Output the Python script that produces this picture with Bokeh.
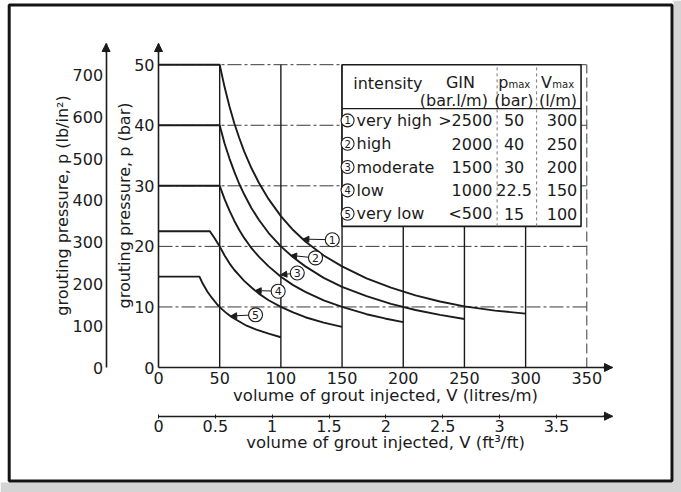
from bokeh.plotting import figure
from bokeh.models import Range1d, LinearAxis, FixedTicker, NumeralTickFormatter, Arrow, NormalHead
from bokeh.core.properties import value
from bokeh.embed import file_html
from bokeh.resources import INLINE

FONT = "DejaVu Sans"
INK = "#1b1b1b"
GRID = "#3a3a3a"

# ---------------- data ----------------
curve_no = ["1", "2", "3", "4", "5"]
intensity = ["very high", "high", "moderate", "low", "very low"]
gin_text = [">2500", "2000", "1500", "1000", "<500"]
pmax_text = ["50", "40", "30", "22.5", "15"]
vmax_text = ["300", "250", "200", "150", "100"]

# curves: V (litres/m), p (bar)
v1 = [0, 50, 54, 58, 62, 66, 70, 76, 82, 90, 100, 110, 120, 135, 150, 170, 190, 210, 230, 250, 275, 300]
p1 = [50, 50, 46.3, 43.1, 40.3, 37.9, 35.7, 32.9, 30.5, 27.8, 25.0, 22.7, 20.8, 18.5, 16.7, 14.7, 13.2, 11.9, 10.9, 10.1, 9.4, 8.9]
v2 = [0, 50, 54, 58, 62, 66, 70, 76, 82, 90, 100, 110, 120, 135, 150, 170, 190, 210, 230, 250]
p2 = [40, 40, 37.0, 34.5, 32.3, 30.3, 28.6, 26.3, 24.4, 22.2, 20.0, 18.2, 16.7, 14.8, 13.3, 11.8, 10.5, 9.5, 8.7, 8.0]
v3 = [0, 50, 54, 58, 62, 66, 70, 76, 82, 90, 100, 110, 120, 135, 150, 170, 185, 200]
p3 = [30, 30, 27.8, 25.9, 24.2, 22.7, 21.4, 19.7, 18.3, 16.7, 15.0, 13.6, 12.5, 11.1, 10.0, 8.8, 8.1, 7.5]
v4 = [0, 42, 46, 50, 54, 58, 62, 66, 70, 76, 82, 90, 100, 110, 120, 135, 150]
p4 = [22.5, 22.5, 21.3, 20.0, 18.5, 17.2, 16.1, 15.2, 14.3, 13.2, 12.2, 11.1, 10.0, 9.1, 8.3, 7.4, 6.7]
v5 = [0, 33.5, 36, 40, 44, 48, 52, 56, 60, 66, 72, 80, 90, 100]
p5 = [15, 15, 13.9, 12.5, 11.4, 10.4, 9.6, 8.9, 8.3, 7.6, 6.9, 6.25, 5.6, 5.0]

vol_ticks = [0, 50, 100, 150, 200, 250, 300, 350]
bar_ticks = [0, 10, 20, 30, 40, 50]
psi_ticks = [0, 100, 200, 300, 400, 500, 600, 700]
ft_ticks = [0, 0.5, 1, 1.5, 2, 2.5, 3, 3.5]
grid_p = [10, 20, 30, 40, 50]
grid_v = [50, 100, 150, 200, 250, 300]
grid_v_dashed = [350]

# callouts: circled number position and arrow tip on the curve
tag_v = [142.0, 128.3, 113.4, 97.8, 79.3]
tag_p = [21.1, 18.1, 15.6, 12.6, 8.7]
tip_v = [118, 108, 100, 79, 59]
tip_p = [21.2, 18.5, 15.3, 12.7, 8.5]

BAR_TO_PSI = 14.5038
LPM_PER_FT3FT = 92.9

X_END = 371.0     # end of the volume axis (arrow tip)
Y_END = 53.5      # end of the pressure axes (arrow tip)

# ---------------- layout (pixels) ----------------
W, H = 681, 492
AX_L, AX_T, AX_W, AX_H = 158, 43, 454, 324    # plotting box of the main axes


def dx(px):   # canvas x pixel -> V
    return (px - AX_L) * X_END / AX_W


def dy(py):   # canvas y pixel -> p
    return Y_END - (py - AX_T) * Y_END / AX_H


# ---------------- figure (frame covers the whole canvas) ----------------
p = figure(width=W, height=H, x_range=Range1d(dx(0), dx(W)), y_range=Range1d(dy(H), dy(0)),
           output_backend="svg", toolbar_location=None, title=None,
           min_border_left=0, min_border_right=0, min_border_top=0, min_border_bottom=0)
p.outline_line_color = None
p.xgrid.visible = False
p.ygrid.visible = False
p.background_fill_color = "white"
p.border_fill_color = "white"

p.extra_y_ranges = {"psi": Range1d(dy(H) * BAR_TO_PSI, dy(0) * BAR_TO_PSI)}
p.extra_x_ranges = {"ft": Range1d(dx(0) / LPM_PER_FT3FT, dx(W) / LPM_PER_FT3FT)}


def style_axis(ax, ticks):
    ax.ticker = FixedTicker(ticks=ticks)
    ax.axis_line_color = INK
    ax.axis_line_width = 1.6
    ax.major_tick_line_color = INK
    ax.major_tick_in = 0
    ax.major_tick_out = 0
    ax.minor_tick_line_color = None
    ax.major_label_text_font = FONT
    ax.major_label_text_font_size = "16px"
    ax.major_label_text_color = INK
    ax.axis_label_text_font = FONT
    ax.axis_label_text_font_size = "16px"
    ax.axis_label_text_font_style = "normal"
    ax.axis_label_text_color = INK


FT_AXIS_P = dy(415.7)      # where the ft3/ft scale sits
PSI_AXIS_V = dx(105.6)     # where the lb/in2 scale sits

xa = p.xaxis[0]
style_axis(xa, vol_ticks)
xa.axis_label = "volume of grout injected, V (litres/m)"
xa.axis_label_text_font_size = "16.5px"
xa.fixed_location = 0
xa.bounds = (0, X_END)
xa.major_label_standoff = 4
xa.axis_label_standoff = -1

ya = p.yaxis[0]
style_axis(ya, bar_ticks)
ya.axis_label = "grouting pressure, p (bar)"
ya.fixed_location = 0
ya.bounds = (0, Y_END)
ya.major_label_standoff = 4
ya.axis_label_standoff = -3

psi_ax = LinearAxis(y_range_name="psi")
style_axis(psi_ax, psi_ticks)
psi_ax.axis_label = "grouting pressure, p (lb/in²)"
psi_ax.fixed_location = PSI_AXIS_V
psi_ax.bounds = (0, Y_END * BAR_TO_PSI)
psi_ax.major_label_standoff = 3
psi_ax.axis_label_standoff = -2
p.add_layout(psi_ax, "left")

ft_ax = LinearAxis(x_range_name="ft")
style_axis(ft_ax, ft_ticks)
ft_ax.formatter = NumeralTickFormatter(format="0.[0]")
ft_ax.fixed_location = FT_AXIS_P
ft_ax.bounds = (0, X_END / LPM_PER_FT3FT)
ft_ax.major_tick_in = 2
ft_ax.major_tick_out = 2
ft_ax.major_label_standoff = 2
ft_ax.axis_label = "volume of grout injected, V (ft³/ft)"
ft_ax.axis_label_text_font_size = "16.5px"
ft_ax.axis_label_standoff = -3
p.add_layout(ft_ax, "below")

# ---------------- scanned page: grey margin and black frame ----------------
p.quad(left=[dx(0)], right=[dx(W)], top=[dy(482)], bottom=[dy(H)], fill_color="#d4d4d4", line_color=None)
p.quad(left=[dx(673)], right=[dx(W)], top=[dy(0)], bottom=[dy(H)], fill_color="#d4d4d4", line_color=None)
p.quad(left=[dx(8.7)], right=[dx(671.5)], top=[dy(4.5)], bottom=[dy(480.5)],
       fill_color=None, line_color="#141414", line_width=3)

# ---------------- grid ----------------
p.segment(x0=[0] * len(grid_p), y0=grid_p, x1=[350] * len(grid_p), y1=grid_p,
          line_color=GRID, line_width=1, line_dash="14 3 3 3")
p.segment(x0=grid_v, y0=[0] * len(grid_v), x1=grid_v, y1=[50] * len(grid_v),
          line_color=INK, line_width=1.4)
p.segment(x0=grid_v_dashed, y0=[0], x1=grid_v_dashed, y1=[50],
          line_color=GRID, line_width=1, line_dash="10 4")

# ---------------- curves ----------------
for vs, ps in [(v1, p1), (v2, p2), (v3, p3), (v4, p4), (v5, p5)]:
    p.line(vs, ps, line_color=INK, line_width=1.9)

# ---------------- callouts ----------------
for tv, tp, gv, gp in zip(tag_v, tag_p, tip_v, tip_p):
    sv = tv - 5.8
    sp = tp + (gp - tp) * 5.8 / (tv - gv)
    p.add_layout(Arrow(end=NormalHead(size=6, fill_color=INK, line_color=INK),
                       x_start=sv, y_start=sp, x_end=gv, y_end=gp,
                       line_color=INK, line_width=1))
p.scatter(x=tag_v, y=tag_p, size=14, marker="circle", fill_color="white", line_color=INK, line_width=1.1)
p.text(x=tag_v, y=tag_p, text=curve_no, text_font=value(FONT), text_font_size="11px",
       text_align="center", text_baseline="middle", text_color=INK)

# ---------------- table ----------------
T_LEFT, T_RIGHT, T_TOP, T_BOTTOM = 150, 345.3, 50, 23.3
HEAD_LINE = 42.73
TS = "16px"
row_p = [40.8 - 3.85 * i for i in range(len(intensity))]
p.quad(left=[T_LEFT], right=[T_RIGHT], top=[T_TOP], bottom=[T_BOTTOM],
       fill_color="white", line_color=INK, line_width=1.6)
p.segment(x0=[T_LEFT], y0=[HEAD_LINE], x1=[T_RIGHT], y1=[HEAD_LINE], line_color=INK, line_width=1.2)
p.segment(x0=[276.7, 309.0], y0=[T_BOTTOM] * 2, x1=[276.7, 309.0], y1=[T_TOP] * 2,
          line_color="#777777", line_width=1, line_dash="3 3")

TF = value(FONT)
p.scatter(x=[154.5] * 5, y=row_p, size=13, marker="circle", fill_color="white", line_color=INK, line_width=1.1)
p.text(x=[154.5] * 5, y=row_p, text=curve_no, text_font=TF, text_font_size="10px",
       text_align="center", text_baseline="middle", text_color=INK)
p.text(x=[161.8] * 5, y=row_p, text=intensity, text_font=TF, text_font_size=TS,
       text_align="left", text_baseline="middle", text_color=INK)
p.text(x=[272.8] * 5, y=row_p, text=gin_text, text_font=TF, text_font_size=TS,
       text_align="right", text_baseline="middle", text_color=INK)
p.text(x=[290.6] * 5, y=row_p, text=pmax_text, text_font=TF, text_font_size=TS,
       text_align="center", text_baseline="middle", text_color=INK)
p.text(x=[342.2] * 5, y=row_p, text=vmax_text, text_font=TF, text_font_size=TS,
       text_align="right", text_baseline="middle", text_color=INK)

p.text(x=[159.1], y=[46.86], text=["intensity"], text_font=TF, text_font_size=TS,
       text_align="left", text_baseline="middle", text_color=INK)
p.text(x=[246.8, 241.4, 290.4, 326.5], y=[47.1, 44.1, 44.1, 44.1],
       text=["GIN", "(bar.l/m)", "(bar)", "(l/m)"], text_font=TF, text_font_size=TS,
       text_align="center", text_baseline="middle", text_color=INK)
p.text(x=[277.6, 312.6], y=[47.1, 47.1], text=["p", "V"], text_font=TF, text_font_size=TS,
       text_align="left", text_baseline="middle", text_color=INK)
p.text(x=[286.0, 321.8], y=[46.7, 46.7], text=["max", "max"], text_font=TF, text_font_size="10px",
       text_align="left", text_baseline="middle", text_color=INK)

# ---------------- axis arrow heads ----------------
head = dict(size=8, fill_color=INK, line_color=INK)
p.add_layout(Arrow(end=NormalHead(**head), x_start=0, y_start=52, x_end=0, y_end=Y_END,
                   line_color=INK, line_width=1.5))
p.add_layout(Arrow(end=NormalHead(**head), x_start=X_END - 8, y_start=0, x_end=X_END, y_end=0,
                   line_color=INK, line_width=1.5))
p.add_layout(Arrow(end=NormalHead(**head), x_start=PSI_AXIS_V, y_start=52, x_end=PSI_AXIS_V, y_end=Y_END,
                   line_color=INK, line_width=1.5))
p.add_layout(Arrow(end=NormalHead(**head), x_start=X_END - 8, y_start=FT_AXIS_P, x_end=X_END, y_end=FT_AXIS_P,
                   line_color=INK, line_width=1.5))

open("out.html", "w").write(file_html(p, INLINE))
